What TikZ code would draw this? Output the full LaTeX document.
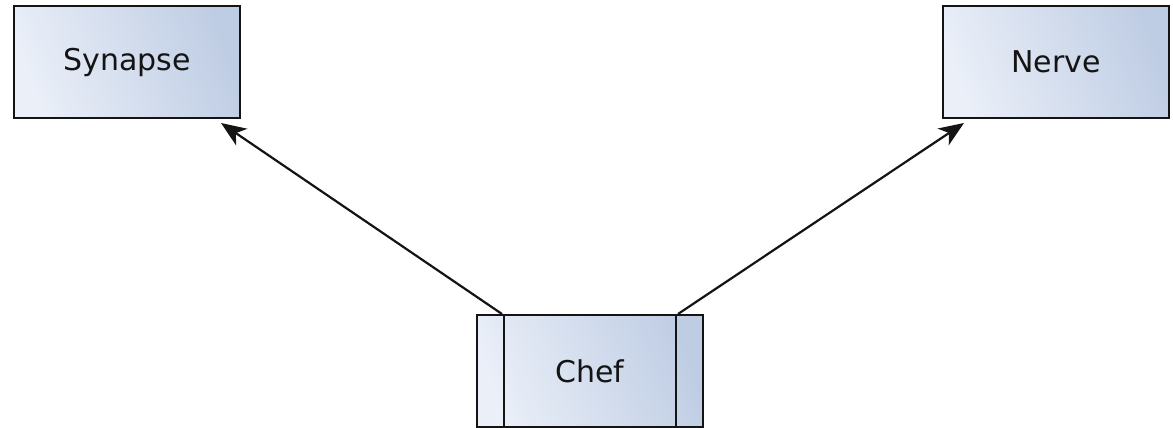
\documentclass[tikz,border=0pt]{standalone}
\usepackage{fontspec}
\setmainfont{DejaVu Sans}
\usetikzlibrary{calc,arrows.meta}
\definecolor{boxlight}{HTML}{EAEFF8}
\definecolor{boxdark}{HTML}{BFCDE4}
\definecolor{ink}{HTML}{141414}
\tikzset{
  x=1pt, y=-1pt,
  classbox/.style={draw=ink, line width=2pt, minimum width=226pt, minimum height=112pt,
    inner sep=0pt, left color=boxdark, right color=boxlight, shading angle=-70,
    font=\fontsize{30}{36}\selectfont, text=ink},
  assoc/.style={draw=ink, line width=2.2pt, -{Stealth[length=25pt, width=20pt, inset=7pt]}}
}
\begin{document}
\begin{tikzpicture}
\useasboundingbox (0,0) rectangle (1173,428);
\node[classbox] (syn) at (127,62) {\raisebox{-3pt}{Synapse}};
\node[classbox] (nerve) at (1056,62) {\raisebox{-2pt}{Nerve}};
\node[classbox] (chef) at (590,371) {Chef};
% active class: vertical bars inside the box
\draw[ink, line width=2pt] ($(chef.north west)+(28,0)$) -- ($(chef.south west)+(28,0)$);
\draw[ink, line width=2pt] ($(chef.north east)+(-28,0)$) -- ($(chef.south east)+(-28,0)$);
\draw[assoc] ($(chef.north west)+(26,0)$) -- ($(syn.south east)+(-20,4)$);
\draw[assoc] ($(chef.north east)+(-26,0)$) -- ($(nerve.south west)+(22,4)$);
\end{tikzpicture}
\end{document}
